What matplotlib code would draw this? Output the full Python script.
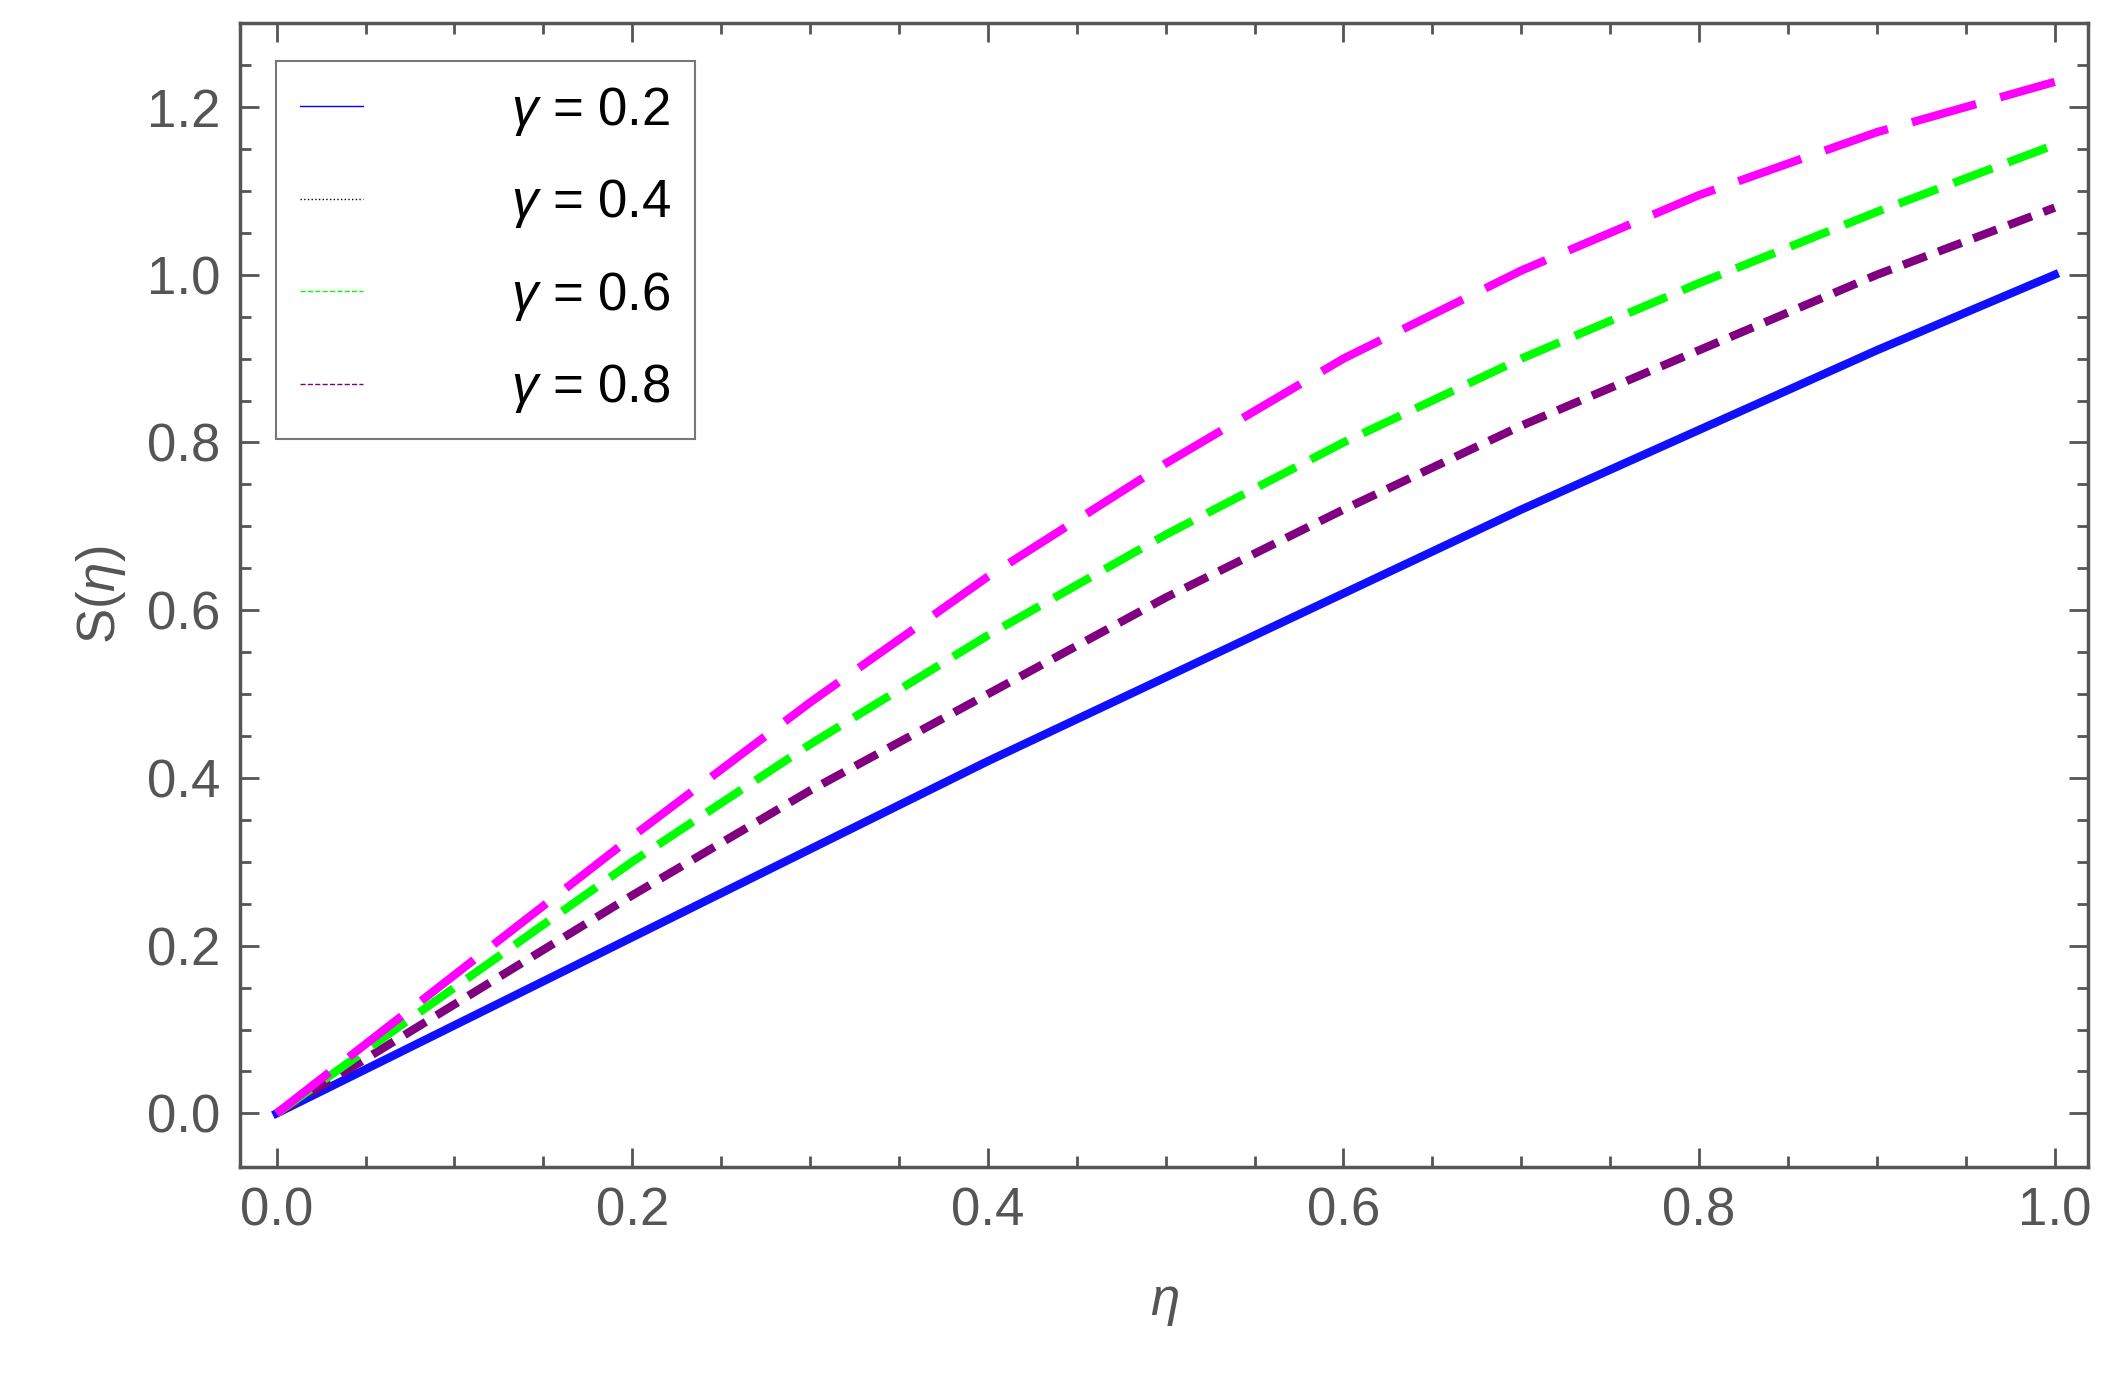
import numpy as np
import matplotlib.pyplot as plt
from matplotlib.lines import Line2D

plt.rcParams['font.family'] = ['Liberation Sans', 'DejaVu Sans']
plt.rcParams['mathtext.fontset'] = 'custom'
plt.rcParams['mathtext.it'] = 'Liberation Sans:italic'

# data
eta = [0.0, 0.1, 0.2, 0.3, 0.4, 0.5, 0.6, 0.7, 0.8, 0.9, 1.0]
s_02 = [0.0, 0.105, 0.21, 0.315, 0.42, 0.52, 0.62, 0.72, 0.815, 0.91, 1.0]
s_04 = [0.0, 0.13, 0.26, 0.385, 0.50, 0.615, 0.72, 0.82, 0.91, 1.0, 1.08]
s_06 = [0.0, 0.15, 0.30, 0.44, 0.57, 0.69, 0.80, 0.90, 0.99, 1.075, 1.155]
s_08 = [0.0, 0.165, 0.33, 0.49, 0.64, 0.775, 0.90, 1.005, 1.095, 1.17, 1.23]
labels = ["0.2", "0.4", "0.6", "0.8"]

gray = "#555555"
fig = plt.figure(figsize=(21.16, 13.95), dpi=100)
ax = fig.add_axes([0.1135, 0.1634, 0.8735, 0.82])

lw = 6
ax.plot(eta, s_02, color="#1010ff", lw=lw)
ax.plot(eta, s_04, color="#800080", lw=lw, dashes=(3, 1.5))
ax.plot(eta, s_06, color="#00ff00", lw=lw, dashes=(5, 2))
ax.plot(eta, s_08, color="#ff00ff", lw=lw, dashes=(8, 3))

ax.set_xlim(-0.0205, 1.019)
ax.set_ylim(-0.064, 1.30)
ax.set_xticks(np.arange(0, 1.01, 0.2))
ax.set_yticks(np.arange(0, 1.21, 0.2))
ax.set_xticks(np.arange(0, 1.01, 0.05), minor=True)
ax.set_yticks(np.arange(0, 1.26, 0.05), minor=True)
ax.xaxis.set_major_formatter(plt.FormatStrFormatter("%.1f"))
ax.yaxis.set_major_formatter(plt.FormatStrFormatter("%.1f"))
ax.tick_params(which="both", direction="in", top=True, right=True, colors=gray,
               labelsize=38, width=2)
ax.tick_params(which="major", length=14, pad=14)
ax.tick_params(which="minor", length=8)
for sp in ax.spines.values():
    sp.set_color(gray)
    sp.set_linewidth(2.5)

ax.set_xlabel(r"$\eta$", fontsize=38, color=gray, labelpad=30)
ax.set_ylabel(r"S($\eta$)", fontsize=38, color=gray, labelpad=14)

handles = [Line2D([], [], color=c, lw=1, ls=s) for c, s in
           zip(["blue", "black", "#00ff00", "#800080"], ["-", ":", "--", "--"])]
leg = ax.legend(handles, [r"$\gamma$ = " + l for l in labels], loc="upper left",
                fontsize=38, frameon=True, fancybox=False, handlelength=1.2,
                handletextpad=2.8, labelspacing=0.75, borderpad=0.45,
                bbox_to_anchor=(0.005, 0.99))
leg.get_frame().set_edgecolor(gray)
leg.get_frame().set_linewidth(1.5)

fig.savefig("out.png", dpi=100)
